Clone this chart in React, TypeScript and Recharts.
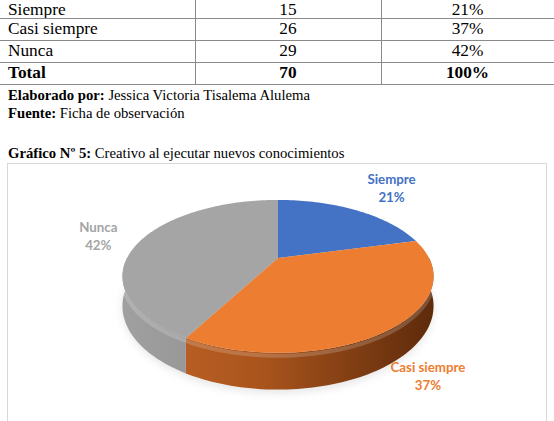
import React from 'react';
import { PieChart, Pie, Cell } from 'recharts';

// ---- data ----
const categories = ['Siempre', 'Casi siempre', 'Nunca'];
const frequencies = [15, 26, 29];
const percentValues = [21, 37, 42];
const percentLabels = ['21%', '37%', '42%'];
const totalLabel = 'Total';
const totalFrequency = 70;
const totalPercent = '100%';
const sliceColors = ['#4472C4', '#ED7D31', '#A5A5A5'];
const wallStops = [
  ['#3a64ae', '#2a4a86', '#1e3766'],
  ['#c4662a', '#a9541c', '#5c2a0b'],
  ['#a0a0a0', '#8f8f8f', '#777777'],
];

const chartData = categories.map((name, i) => ({ name, value: percentValues[i], label: percentLabels[i] }));

// ---- 3D projection helpers ----
const PERSP = 0.24;
const TILT = 0.477;
const DEPTH = 28;
const RAD = Math.PI / 180;

function project(cx: number, cy: number, R: number, angle: number, m = 1) {
  const X = Math.cos(angle * RAD) * m;
  const Z = Math.sin(angle * RAD) * m;
  const f = 1 / (1 + PERSP * Z);
  return { x: cx + R * X * f, y: cy - R * TILT * Z * f, f };
}

function sampleAngles(a0: number, a1: number) {
  const n = Math.max(2, Math.ceil(Math.abs(a1 - a0) / 1.5));
  const list: number[] = [];
  for (let i = 0; i <= n; i++) list.push(a0 + ((a1 - a0) * i) / n);
  const lo = Math.min(a0, a1), hi = Math.max(a0, a1);
  for (let k = -4; k <= 4; k++) {
    const c = k * 180;
    if (c > lo && c < hi) list.push(c);
  }
  list.sort((p, q) => (a1 < a0 ? q - p : p - q));
  return list;
}

function Slice3D(props: any) {
  const { cx, cy, outerRadius, startAngle, endAngle, index } = props;
  const R = outerRadius;
  const angles = sampleAngles(startAngle, endAngle);
  const rim = angles.map((a) => project(cx, cy, R, a));
  const topPath = `M${cx},${cy} ` + rim.map((p) => `L${p.x.toFixed(2)},${p.y.toFixed(2)}`).join(' ') + ' Z';

  const front = angles.filter((a) => Math.sin(a * RAD) <= 1e-6).map((a) => project(cx, cy, R, a));
  let wallPath = '';
  if (front.length > 1) {
    const upper = front.map((p) => `${p.x.toFixed(2)},${p.y.toFixed(2)}`);
    const lower = front
      .slice()
      .reverse()
      .map((p) => `${p.x.toFixed(2)},${(p.y + DEPTH * p.f).toFixed(2)}`);
    wallPath = 'M' + upper.join(' L') + ' L' + lower.join(' L') + ' Z';
  }
  const gid = `wallGrad${index}`;
  const stops = wallStops[index] || wallStops[0];
  const color = sliceColors[index] || '#999';
  const bevel =
    front.length > 1
      ? 'M' + front.map((p) => `${p.x.toFixed(2)},${(p.y + 3).toFixed(2)}`).join(' L')
      : '';
  return (
    <g>
      <defs>
        <linearGradient id={gid} gradientUnits="userSpaceOnUse" x1={cx - R * 1.05} y1={0} x2={cx + R * 1.05} y2={0}>
          <stop offset="0%" stopColor={stops[0]} />
          <stop offset="45%" stopColor={stops[1]} />
          <stop offset="100%" stopColor={stops[2]} />
        </linearGradient>
        <filter id="pieShadow" x="-20%" y="-20%" width="140%" height="140%">
          <feGaussianBlur stdDeviation="4" />
        </filter>
      </defs>
      {index === 0 && (
        <ellipse
          cx={cx}
          cy={cy + 22 + DEPTH}
          rx={R * 1.03}
          ry={R * TILT * 1.18}
          fill="rgba(0,0,0,0.10)"
          filter="url(#pieShadow)"
        />
      )}
      {wallPath && <path d={wallPath} fill={`url(#${gid})`} stroke="none" />}
      {bevel && <path d={bevel} fill="none" stroke="rgba(255,255,255,0.18)" strokeWidth={4} />}
      <path d={topPath} fill={color} stroke="none" />
    </g>
  );
}

function renderLabel(props: any) {
  const { cx, cy, midAngle, outerRadius, index, payload } = props;
  const p = project(cx, cy, outerRadius, midAngle);
  const dx = p.x - cx, dy = p.y - cy;
  const len = Math.hypot(dx, dy) || 1;
  const off = 42;
  let x = p.x + (dx / len) * off;
  let y = p.y + (dy / len) * off;
  const s = Math.sin(midAngle * RAD);
  if (s < 0) y += 26 * p.f * -s;
  const name = payload?.name ?? categories[index];
  const lab = payload?.label ?? percentLabels[index];
  return (
    <text
      key={`lab${index}`}
      textAnchor="middle"
      fill={sliceColors[index]}
      fontFamily="Lato, 'Open Sans', sans-serif"
      fontWeight="bold"
      fontSize={13.3}
    >
      <tspan x={x} y={y - 4}>{name}</tspan>
      <tspan x={x} y={y + 14}>{lab}</tspan>
    </text>
  );
}

// ---- table layout ----
const tableRows = [
  ...categories.map((c, i) => ({ c, f: String(frequencies[i]), p: percentLabels[i], bold: false })),
  { c: totalLabel, f: String(totalFrequency), p: totalPercent, bold: true },
];
const ROW_H = 22;
const ROW0_TOP = -3.9;
const FIRST_ROW_TOP = -1.2;
const COL1 = 195;
const COL2 = 381;
const LINE_BASE = -4;
const SERIF = '"Liberation Serif", "Times New Roman", serif';

export default function App() {
  return (
    <div
      style={{
        position: 'fixed',
        left: 0,
        top: 0,
        width: 554,
        height: 421,
        overflow: 'hidden',
        background: '#fff',
        fontFamily: SERIF,
        color: '#000',
      }}
    >
      {/* table rows */}
      {tableRows.map((r, i) => {
        const top = i === 0 ? FIRST_ROW_TOP : ROW0_TOP + i * ROW_H;
        return (
          <div key={i} style={{ position: 'absolute', left: 0, top, width: 554, height: ROW_H, fontFamily: SERIF, fontSize: 17.3, lineHeight: `${ROW_H}px`, fontWeight: r.bold ? 'bold' : 'normal' }}>
            <div style={{ position: 'absolute', left: 8, top: 0 }}>{r.c}</div>
            <div style={{ position: 'absolute', left: COL1, width: COL2 - COL1, top: 0, textAlign: 'center' }}>{r.f}</div>
            <div style={{ position: 'absolute', left: COL2, width: 554 - COL2, top: 0, textAlign: 'center' }}>{r.p}</div>
          </div>
        );
      })}
      {tableRows.map((_, i) => (
        <div key={`h${i}`} style={{ position: 'absolute', left: 0, width: 554, top: LINE_BASE + (i + 1) * ROW_H, height: 1, background: '#8a8a8a' }} />
      ))}
      <div style={{ position: 'absolute', left: COL1, top: 0, width: 1, height: LINE_BASE + tableRows.length * ROW_H, background: '#8a8a8a' }} />
      <div style={{ position: 'absolute', left: COL2, top: 0, width: 1, height: LINE_BASE + tableRows.length * ROW_H, background: '#8a8a8a' }} />

      {/* captions */}
      <div style={{ position: 'absolute', left: 8, top: 86, fontSize: 14.7, lineHeight: '18px', whiteSpace: 'nowrap' }}>
        <b>Elaborado por:</b> Jessica Victoria Tisalema Alulema
      </div>
      <div style={{ position: 'absolute', left: 8, top: 104, fontSize: 14.7, lineHeight: '18px', whiteSpace: 'nowrap' }}>
        <b>Fuente:</b> Ficha de observación
      </div>
      <div style={{ position: 'absolute', left: 8, top: 144, fontSize: 14.7, lineHeight: '18px', whiteSpace: 'nowrap' }}>
        <b>Gráfico Nº 5:</b> Creativo al ejecutar nuevos conocimientos
      </div>

      {/* chart box */}
      <div
        style={{
          position: 'absolute',
          left: 7,
          top: 163,
          width: 538,
          height: 300,
          border: '1px solid #d9d9d9',
          background: '#fff',
        }}
      >
        <PieChart width={538} height={258} margin={{ top: 0, right: 0, bottom: 0, left: 0 }}>
          <Pie
            data={chartData}
            dataKey="value"
            nameKey="name"
            cx={270}
            cy={94}
            outerRadius={151}
            startAngle={90}
            endAngle={-270}
            stroke="none"
            isAnimationActive={false}
            shape={Slice3D}
            inactiveShape={Slice3D}
            activeShape={Slice3D}
            label={renderLabel}
            labelLine={false}
          >
            {chartData.map((d, i) => (
              <Cell key={d.name} fill={sliceColors[i]} />
            ))}
          </Pie>
        </PieChart>
      </div>
    </div>
  );
}
